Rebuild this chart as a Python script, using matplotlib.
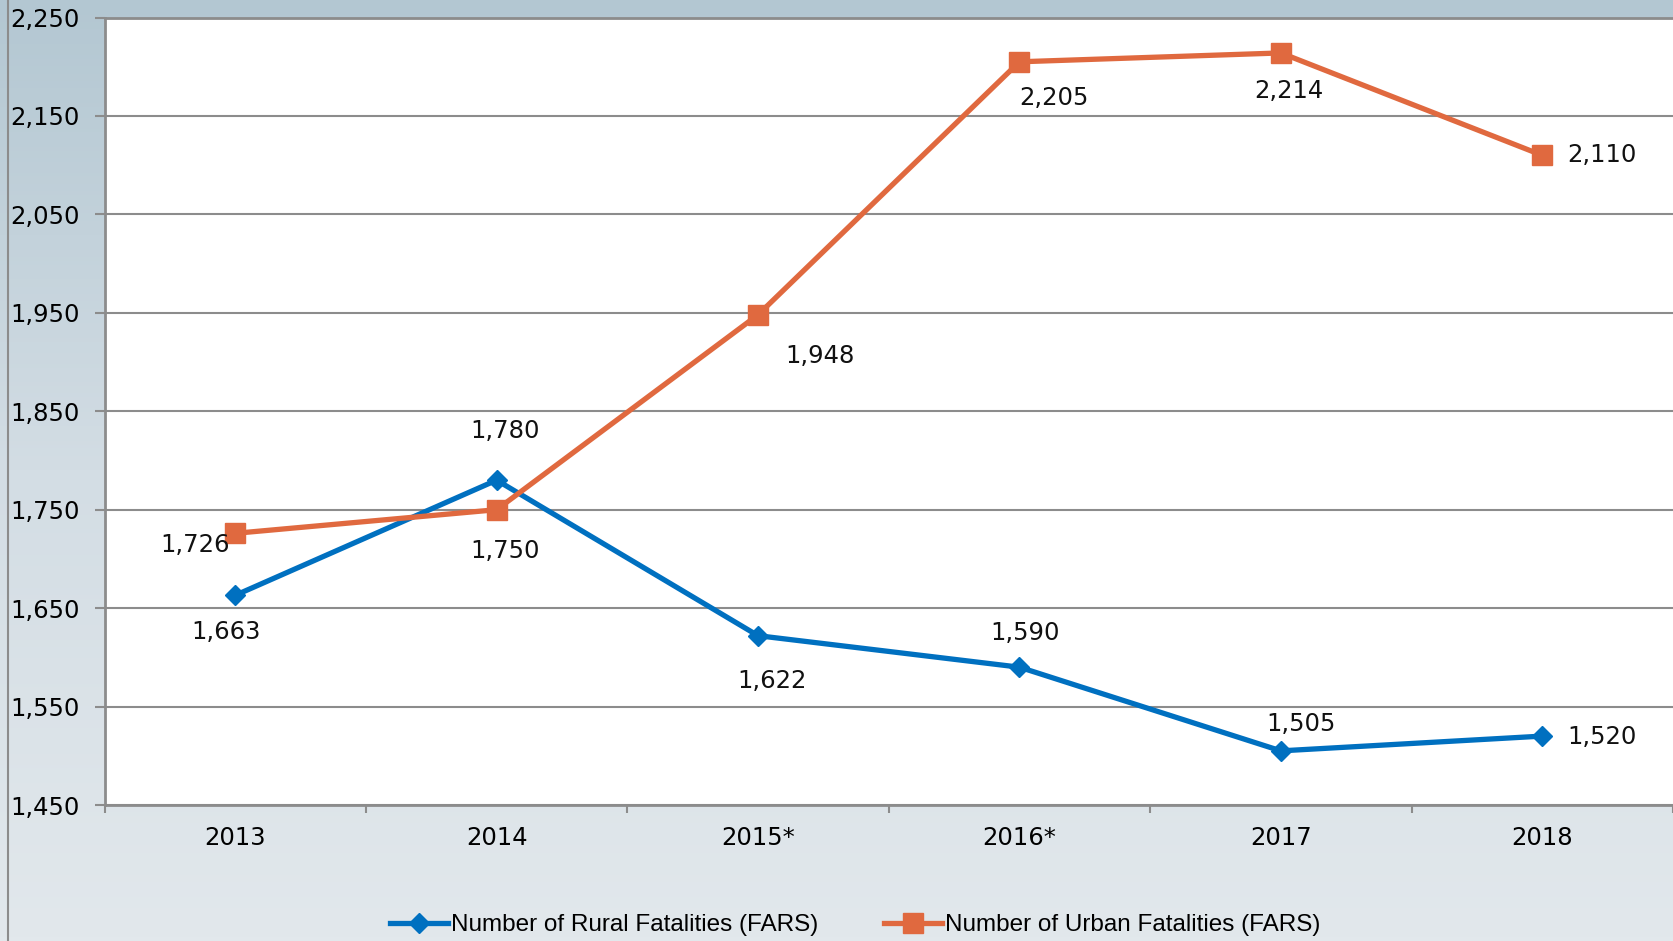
import numpy as np
import matplotlib
matplotlib.use("Agg")
import matplotlib.pyplot as plt
from matplotlib.lines import Line2D
from matplotlib.colors import LinearSegmentedColormap

# data
years = ["2013", "2014", "2015*", "2016*", "2017", "2018"]
rural = [1663, 1780, 1622, 1590, 1505, 1520]
urban = [1726, 1750, 1948, 2205, 2214, 2110]
y_ticks = [1450, 1550, 1650, 1750, 1850, 1950, 2050, 2150, 2250]

# label offsets in pixels (dx, dy) relative to each point
rural_off = [(-9, -37), (8, 49), (14, -45), (6, 34), (20, 27), (60, -1)]
urban_off = [(-40, -12), (8, -41), (62, -41), (34, -36), (8, -38), (60, 0)]

BLUE = "#0070C0"
ORANGE = "#E0693F"
GRID = "#8C8C8C"

plt.rcParams['font.family'] = ['DejaVu Sans']

fig = plt.figure(figsize=(16.73, 9.41), dpi=100)

# gradient background
bg = fig.add_axes([0, 0, 1, 1], zorder=-10)
cmap = LinearSegmentedColormap.from_list("bg", ["#B3C7D2", "#D3DDE4", "#E2E8EC"])
bg.imshow(np.linspace(0, 1, 256).reshape(-1, 1), aspect="auto", cmap=cmap,
          extent=[0, 1, 0, 1])
bg.set_axis_off()
fig.add_artist(Line2D([8 / 1673, 8 / 1673], [0, 1], color=GRID, lw=1.5,
                      transform=fig.transFigure))

ax = fig.add_axes([104.5 / 1673, 1 - 805 / 941, 1 - 104.5 / 1673, (805 - 17.5) / 941])
ax.set_facecolor("white")

x = np.arange(len(years))
ax.plot(x, rural, color=BLUE, lw=3.8, marker="D", ms=10.5, zorder=3,
        label="Number of Rural Fatalities (FARS)")
ax.plot(x, urban, color=ORANGE, lw=3.8, marker="s", ms=14, zorder=3,
        label="Number of Urban Fatalities (FARS)")

for xi, v, (dx, dy) in zip(x, rural, rural_off):
    ax.annotate(f"{v:,}", (xi, v), xytext=(dx, dy), textcoords="offset pixels",
                ha="center", va="center", fontsize=17.5, color="#111111")
for xi, v, (dx, dy) in zip(x, urban, urban_off):
    ax.annotate(f"{v:,}", (xi, v), xytext=(dx, dy), textcoords="offset pixels",
                ha="center", va="center", fontsize=17.5, color="#111111")

ax.set_xlim(-0.5, len(years) - 0.5)
ax.set_ylim(1450, 2250)
ax.set_yticks(y_ticks)
ax.set_yticklabels([f"{t:,}" for t in y_ticks])
ax.yaxis.grid(True, color=GRID, lw=1.5)
ax.set_axisbelow(True)

ax.set_xticks(x)
ax.set_xticklabels(years)
ax.set_xticks(np.arange(len(years) + 1) - 0.5, minor=True)
ax.tick_params(axis="x", which="major", length=0, pad=15, labelsize=17.5)
ax.tick_params(axis="x", which="minor", length=6, width=1.5, color=GRID, direction="out")
ax.tick_params(axis="y", length=7, width=1.5, color=GRID, labelsize=17.5, pad=11)

for side in ["left", "bottom", "top"]:
    ax.spines[side].set_color(GRID)
    ax.spines[side].set_linewidth(2)
ax.spines["right"].set_visible(False)

leg = fig.legend(loc="center", bbox_to_anchor=(855 / 1673, 1 - 925 / 941), ncol=2,
                 frameon=False, handlelength=2.4, handletextpad=0.1, columnspacing=2.7,
                 prop={"family": ["Liberation Sans", "DejaVu Sans"], "size": 17.5})

fig.savefig("out.png", dpi=100)
